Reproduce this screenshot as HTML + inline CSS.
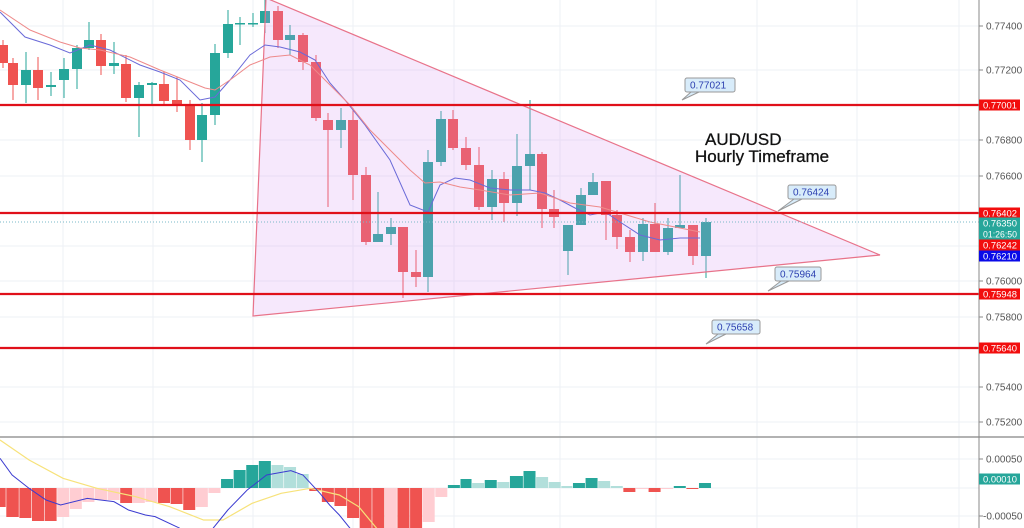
<!DOCTYPE html>
<html><head><meta charset="utf-8"><style>
html,body{margin:0;padding:0;background:#fff;width:1024px;height:528px;overflow:hidden}
svg{display:block;font-family:"Liberation Sans",sans-serif}
</style></head><body>
<svg id="s" width="1024" height="528" viewBox="0 0 1024 528" xmlns="http://www.w3.org/2000/svg">
<g id="grid" stroke="#eef1f5" stroke-width="1"></g>
<g id="candles"></g>
<polygon points="253,316 266,-2 880,255" fill="rgba(215,150,240,0.22)" stroke="#e8738a" stroke-width="1.2"/>
<g id="ma" fill="none" stroke-width="1"></g>
<g stroke="#e0101a" stroke-width="2.2">
<line x1="0" y1="105" x2="979" y2="105"/><line x1="0" y1="213" x2="979" y2="213"/>
<line x1="0" y1="294" x2="979" y2="294"/><line x1="0" y1="348" x2="979" y2="348"/>
</g>
<line x1="0" y1="222" x2="979" y2="222" stroke="#7ab8c8" stroke-width="1" stroke-dasharray="1,2"/>
<g id="callouts" font-size="10" fill="#2c3fb0"></g>
<text x="705" y="145" font-size="17" fill="#111" stroke="#111" stroke-width="0.3">AUD/USD</text>
<text x="695" y="162" font-size="17" fill="#111" stroke="#111" stroke-width="0.3">Hourly Timeframe</text>
<line x1="0" y1="437" x2="1024" y2="437" stroke="#999" stroke-width="1.5"/>
<line x1="0" y1="488" x2="979" y2="488" stroke="#eef1f5"/>
<g id="macd"></g>
<line x1="979" y1="0" x2="979" y2="528" stroke="#888" stroke-width="1"/>
<g id="axis" font-size="10" fill="#555"></g>
</svg>
<script>
const NS="http://www.w3.org/2000/svg";
function el(p,t,a,txt){const e=document.createElementNS(NS,t);for(const k in a)e.setAttribute(k,a[k]);if(txt!==undefined)e.textContent=txt;document.getElementById(p).appendChild(e);return e;}
[63,153,253,353,454,560,656,757,857,959].forEach(x=>el('grid','line',{x1:x,y1:0,x2:x,y2:528}));
[26,70,140,176,246,281,317,387,422,459,516].forEach(y=>el('grid','line',{x1:0,y1:y,x2:979,y2:y}));
const C=[[3,'r',45,63,40,68],[13,'r',63,85,58,100],[26,'g',70,85,52,103],[38,'r',70,88,57,100],[51,'g',85,87,72,96],[64,'g',69,80,58,98],[77,'g',48,69,45,89],[89,'g',40,48,22,50],[101,'r',40,66,34,75],[114,'g',63,66,42,74],[126,'r',64,98,55,102],[139,'g',85,98,82,137],[152,'g',83,85,82,105],[164,'r',84,101,72,104],[177,'r',100,106,77,112],[190,'r',105,140,100,150],[202,'g',115,140,103,162],[215,'g',53,115,44,125],[228,'g',24,53,10,58],[240,'g',23,24,17,45],[253,'g',23,24,13,27],[265,'g',11,23,0,33],[278,'r',11,40,6,48],[290,'g',35,40,25,55],[303,'r',35,62,33,70],[316,'r',62,118,55,121],[328,'r',120,130,113,207],[341,'g',120,130,108,148],[353,'r',120,175,108,200],[366,'r',175,242,167,245],[378,'g',234,242,192,242],[391,'g',227,234,218,245],[403,'r',227,272,227,298],[416,'r',272,277,250,287],[428,'g',162,277,150,292],[441,'g',119,162,111,166],[453,'r',119,148,110,150],[466,'r',148,165,137,170],[479,'r',165,207,147,210],[492,'g',179,207,170,220],[504,'r',179,203,172,222],[517,'g',166,203,134,216],[530,'g',154,166,100,190],[542,'r',154,209,152,228],[554,'r',209,217,190,228],[568,'g',225,251,225,275],[581,'g',195,225,188,225],[593,'g',182,195,173,195],[606,'r',181,215,181,240],[617,'r',215,237,210,249],[630,'r',237,252,230,262],[643,'g',224,252,218,261],[655,'r',224,252,203,252],[668,'g',228,252,218,255],[680,'g',225,228,175,228],[693,'r',225,256,225,265],[706,'g',222,256,218,278]];
C.forEach(c=>{const col=c[1]=='r'?'#ef5350':'#26a69a';el('candles','line',{x1:c[0],y1:c[4],x2:c[0],y2:c[5],stroke:col,'stroke-width':1});el('candles','rect',{x:c[0]-5,y:c[2],width:10,height:Math.max(1.5,c[3]-c[2]),fill:col});});
const pl=(p,pts,col,w)=>el(p,'polyline',{points:pts.map(a=>a.join(',')).join(' '),stroke:col,fill:'none','stroke-width':w||1});
pl('ma',[[0,12],[25,37],[50,45],[70,53],[90,45],[110,50],[140,65],[160,72],[180,80],[200,100],[215,97],[230,80],[250,55],[265,45],[280,47],[300,52],[315,60],[330,83],[345,100],[365,125],[390,160],[410,205],[428,212],[440,185],[455,178],[470,180],[490,188],[510,190],[530,190],[545,193],[560,200],[575,208],[590,215],[605,212],[620,222],[640,235],[660,240],[680,238],[700,238]],'#6a6ad8');
pl('ma',[[0,10],[30,30],[60,42],[80,48],[100,50],[130,57],[160,70],[190,82],[205,88],[215,90],[230,80],[250,65],[270,57],[290,55],[310,65],[330,85],[350,105],[370,130],[390,150],[410,170],[425,183],[440,182],[460,187],[480,190],[510,195],[540,193],[570,203],[600,207],[620,213],[650,222],[680,228],[700,232]],'#ee8a8a');
function callout(x,y,w,t,px,py){el('callouts','polyline',{points:`${x+6},${y+14} ${px},${py} ${x+14},${y+14}`,fill:'#d8ecfa',stroke:'#999'});el('callouts','rect',{x:x,y:y,width:w,height:14,rx:2,fill:'#d8ecfa',stroke:'#999'});el('callouts','text',{x:x+5,y:y+10.5},t);}
callout(685,78,50,'0.77021',682,100);callout(788,185,48,'0.76424',778,211);callout(775,267,46,'0.75964',768,291);callout(712,320,48,'0.75658',706,344);
const H=[[0,13,'r',507],[13,40,'r',517],[40,66,'r',518],[66,92,'r',521],[92,118,'r',521],[118,144,'p',517],[144,170,'p',509],[170,196,'p',502],[196,222,'p',500],[222,248,'p',500],[248,274,'r',503],[274,300,'p',503],[300,326,'p',502],[326,352,'r',503],[352,378,'r',504],[378,404,'r',510],[404,430,'p',507],[430,456,'p',493],[456,482,'g',479],[482,508,'g',470],[508,534,'g',465],[534,560,'g',461],[560,586,'l',465],[586,612,'l',467],[612,638,'l',474],[638,664,'r',491],[664,690,'r',502],[690,716,'r',506],[716,742,'r',518],[742,768,'r',530],[768,794,'r',530],[794,820,'p',530],[820,846,'r',530],[846,872,'r',530],[872,898,'p',522],[898,924,'p',497],[924,950,'g',485],[950,974,'g',479],[974,1000,'l',483],[1000,1026,'g',480],[1026,1052,'l',482],[1052,1080,'g',476],[1080,1106,'g',471],[1106,1132,'l',477],[1132,1158,'l',482],[1158,1182,'l',486],[1182,1208,'g',483],[1208,1234,'g',478],[1234,1260,'l',481],[1260,1286,'l',486],[1286,1312,'r',492],[1312,1338,'p',489],[1338,1364,'r',492],[1364,1390,'p',489],[1390,1416,'g',486],[1416,1442,'r',489],[1442,1468,'g',483]];
const HC={r:'#ef5350',p:'#ffcdd2',g:'#26a69a',l:'#b2dfdb'};const Z=488;
H.forEach(h=>{const x=h[0]/2.063,w=(h[1]-h[0])/2.063-0.6;const y1=Math.min(Z,h[3]),y2=Math.max(Z,h[3]);el('macd','rect',{x:x,y:y1,width:w,height:Math.max(1,y2-y1),fill:HC[h[2]]});});
const cv=a=>a.map(p=>[p[0]/2.063,430+p[1]/3]);
pl('macd',cv([[0,30],[60,90],[130,145],[200,175],[280,200],[350,230],[420,270],[460,270],[520,220],[580,190],[640,175],[700,195],[740,230],[780,300]]),'#f7e27a',1.2);
pl('macd',cv([[0,85],[25,135],[60,175],[95,210],[125,225],[180,205],[235,215],[265,240],[300,255],[320,260],[370,294],[380,310]]),'#3b3bd0',1);
pl('macd',cv([[430,310],[440,294],[470,240],[510,180],[550,135],[600,122],[625,135],[660,190],[680,225],[700,255],[725,300]]),'#3b3bd0',1);
[[26,'0.77400'],[70,'0.77200'],[140,'0.76800'],[176,'0.76600'],[281,'0.76000'],[317,'0.75800'],[387,'0.75400'],[422,'0.75200'],[459,'0.00050'],[516,'-0.00050']].forEach(a=>{el('axis','line',{x1:979,y1:a[0],x2:983,y2:a[0],stroke:'#888'});el('axis','text',{x:a[1][0]=='-'?983:986,y:a[0]+3.5},a[1]);});
[[105,'#f20d0d','0.77001'],[213,'#f20d0d','0.76402'],[223,'#26a69a','0.76350'],[234,'#26a69a','01:26:50'],[245,'#f20d0d','0.76242'],[256,'#0a0ae8','0.76210'],[294,'#f20d0d','0.75948'],[348,'#f20d0d','0.75640'],[479,'#26a69a','0.00010']].forEach(a=>{el('axis','rect',{x:979,y:a[0]-5.5,width:41,height:11,fill:a[1]});el('axis','text',{x:983,y:a[0]+3.5,fill:'#fff','font-size':'9.5',textLength:'34',lengthAdjust:'spacingAndGlyphs'},a[2]);});
</script>
</body></html>
